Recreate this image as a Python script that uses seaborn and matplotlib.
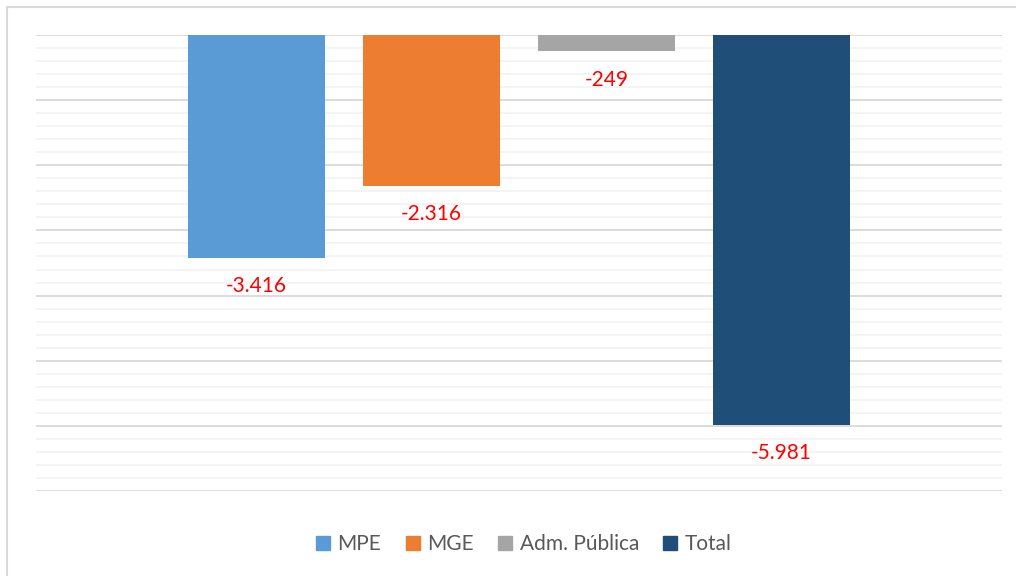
import matplotlib
matplotlib.use("Agg")
import matplotlib.pyplot as plt
from matplotlib.lines import Line2D
import seaborn as sns
import pandas as pd

# ---- data ----
series = ["MPE", "MGE", "Adm. Pública", "Total"]
values = [-3416, -2316, -249, -5981]
colors = ["#5B9BD5", "#ED7D31", "#A5A5A5", "#1F4E79"]
category = [""] * len(series)

df = pd.DataFrame({"cat": category, "serie": series, "valor": values})

sns.set_theme(style="white")
plt.rcParams["font.family"] = ["Lato", "DejaVu Sans"]

W, H = 1016, 576
fig = plt.figure(figsize=(W / 100, H / 100), dpi=100)
fig.patch.set_facecolor("white")
ax = fig.add_axes([36 / W, 1 - 491 / H, (1002 - 36) / W, (491 - 35) / H])

# gridlines
ax.set_ylim(-7000, 0)
ax.set_xlim(-0.5, 0.5)
for y in range(0, -7001, -200):
    if y % 1000 == 0:
        ax.axhline(y, color="#D9D9D9", lw=1.3, zorder=0)
    else:
        ax.axhline(y, color="#F2F2F2", lw=1.2, zorder=0)

sns.barplot(data=df, x="cat", y="valor", hue="serie", hue_order=series,
            palette=colors, width=0.7246, gap=0.217, legend=False,
            saturation=1, linewidth=0, edgecolor="none", ax=ax, zorder=2)
ax.set_xlim(-0.5, 0.5)
ax.set_ylim(-7000, 0)

for bar_cont in ax.containers:
    for rect in bar_cont:
        end = min(rect.get_y(), rect.get_y() + rect.get_height())
        txt = f"{end:,.0f}".replace(",", ".")
        ax.annotate(txt, (rect.get_x() + rect.get_width() / 2, end),
                    xytext=(0, -28.5 * 0.72), textcoords="offset points",
                    ha="center", va="center", color="#FF0000", fontsize=15)

for s in ax.spines.values():
    s.set_visible(False)
ax.set_xticks([])
ax.set_yticks([])
ax.set_xlabel("")
ax.set_ylabel("")

handles = [Line2D([], [], marker="s", ls="", markersize=10.5, color=c) for c in colors]
fig.legend(handles, series, loc="center", bbox_to_anchor=(0.514, 1 - 544 / H),
           ncol=4, frameon=False, fontsize=15, labelcolor="#595959",
           handletextpad=0.2, columnspacing=1.0, handlelength=1.0)

# chart frame (left/top visible)
fig.add_artist(Line2D([7 / W, 7 / W], [0, 1 - 7 / H], color="#D9D9D9", lw=1.5,
                      transform=fig.transFigure))
fig.add_artist(Line2D([7 / W, 1], [1 - 7 / H, 1 - 7 / H], color="#D9D9D9", lw=1.5,
                      transform=fig.transFigure))

fig.savefig("out.png", dpi=100)
